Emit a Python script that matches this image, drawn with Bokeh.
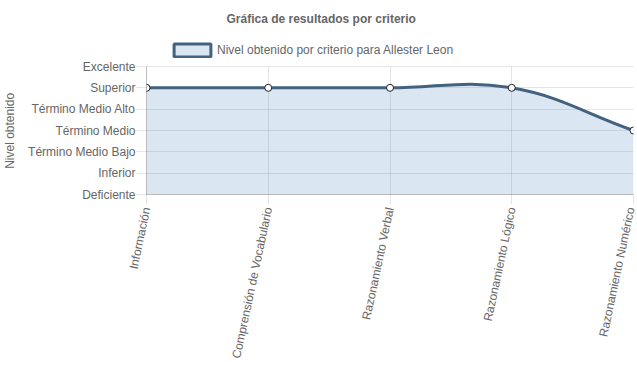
import math
from bokeh.plotting import figure
from bokeh.models import (ColumnDataSource, FixedTicker, Range1d, Legend, LegendItem)
from bokeh.embed import file_html
from bokeh.resources import INLINE

# ---- data ----
niveles = ["Deficiente", "Inferior", "Término Medio Bajo", "Término Medio",
           "Término Medio Alto", "Superior", "Excelente"]
criterios = ["Información", "Comprensión de Vocabulario", "Razonamiento Verbal",
             "Razonamiento Lógico", "Razonamiento Numérico"]
resultados = ["Superior", "Superior", "Superior", "Superior", "Término Medio"]
serie = "Nivel obtenido por criterio para Allester Leon"
titulo = "Gráfica de resultados por criterio"
eje_y = "Nivel obtenido"

FONT = "Liberation Sans"
TXT = "#666666"
LINE = "#43627f"
FILL = "rgba(70,130,185,0.2)"
GRID = "rgba(0,0,0,0.1)"

W, H = 637, 389
BL, BR, BT, BB = 146, 4, 30, 195
LEG_H = 36                      # space between frame top and the chart area (legend)
fw = W - BL - BR
fh = H - BT - BB - LEG_H        # height of the level area

xs = list(range(len(criterios)))
ys = [niveles.index(r) for r in resultados]
ytop = len(niveles) - 1
sx = fw / (len(criterios) - 1)
sy = fh / ytop

p = figure(width=W, height=H, output_backend="svg", toolbar_location=None,
           x_range=Range1d(0, len(criterios) - 1),
           y_range=Range1d(0, ytop + LEG_H / sy),
           min_border_left=BL, min_border_right=BR, min_border_top=BT, min_border_bottom=BB,
           outline_line_color=None, background_fill_color="white", border_fill_color="white")

# Chart.js-like spline (tension 0.4) computed in pixel space
P = [(x * sx, y * sy) for x, y in zip(xs, ys)]
t = 0.4
cps = []
for i, (cx, cy) in enumerate(P):
    px, py = P[i - 1] if i > 0 else (cx, cy)
    nx, ny = P[i + 1] if i < len(P) - 1 else (cx, cy)
    d01 = math.hypot(cx - px, cy - py)
    d12 = math.hypot(nx - cx, ny - cy)
    s = d01 + d12
    s01 = d01 / s if s else 0
    s12 = d12 / s if s else 0
    fa, fb = t * s01, t * s12
    prev_cp = (cx - fa * (nx - px), cy - fa * (ny - py))
    next_cp = (cx + fb * (nx - px), cy + fb * (ny - py))
    cps.append((prev_cp, next_cp))

bz = dict(x0=[], y0=[], x1=[], y1=[], cx0=[], cy0=[], cx1=[], cy1=[])
fx, fy = [], []
for i in range(len(P) - 1):
    a, b = P[i], P[i + 1]
    c0, c1 = cps[i][1], cps[i + 1][0]
    bz["x0"].append(a[0] / sx); bz["y0"].append(a[1] / sy)
    bz["x1"].append(b[0] / sx); bz["y1"].append(b[1] / sy)
    bz["cx0"].append(c0[0] / sx); bz["cy0"].append(c0[1] / sy)
    bz["cx1"].append(c1[0] / sx); bz["cy1"].append(c1[1] / sy)
    n = 40
    for k in range(n + (1 if i == len(P) - 2 else 0)):
        u = k / n
        m = 1 - u
        X = m**3 * a[0] + 3 * m * m * u * c0[0] + 3 * m * u * u * c1[0] + u**3 * b[0]
        Y = m**3 * a[1] + 3 * m * m * u * c0[1] + 3 * m * u * u * c1[1] + u**3 * b[1]
        fx.append(X / sx); fy.append(Y / sy)

# grids
p.ygrid.ticker = FixedTicker(ticks=list(range(len(niveles))))
p.grid.grid_line_color = GRID
xg = p.xgrid[0]
if hasattr(xg, "cross_bounds"):
    xg.ticker = FixedTicker(ticks=xs)
    xg.cross_bounds = (0, ytop)
else:
    xg.visible = False
    p.segment(x0=xs, y0=[0] * len(xs), x1=xs, y1=[ytop] * len(xs),
              line_color=GRID, line_width=1, level="underlay")

p.varea(x=fx, y1=[0] * len(fx), y2=fy, fill_color=FILL)
p.bezier(x0="x0", y0="y0", x1="x1", y1="y1", cx0="cx0", cy0="cy0", cx1="cx1", cy1="cy1",
         source=ColumnDataSource(bz), line_color=LINE, line_width=3)
p.scatter(xs, ys, size=7, fill_color="white", line_color="#222222", line_width=1)

# legend swatch (glyph placed off-range; only its legend glyph shows)
sw = p.quad(left=[-10], right=[-9], top=[-10], bottom=[-11], fill_color="#dae6f1",
            line_color=LINE, line_width=3)
leg = Legend(items=[LegendItem(label=serie, renderers=[sw])], orientation="horizontal",
             location=(23, fh + LEG_H - 27.5), glyph_width=46, glyph_height=16, label_standoff=2,
             label_text_font=FONT, label_text_font_size="12px", label_text_color=TXT,
             border_line_color=None, background_fill_alpha=0, padding=0, margin=0,
             label_height=14, spacing=0)
p.add_layout(leg, "center")

p.title.text = titulo
p.title.align = "left"
p.title.offset = 80
p.title.text_font = FONT
p.title.text_font_size = "12px"
p.title.text_font_style = "bold"
p.title.text_color = TXT

# axes
p.xaxis.ticker = FixedTicker(ticks=xs)
p.xaxis.major_label_overrides = {i: c for i, c in enumerate(criterios)}
p.xaxis.major_label_orientation = math.radians(78)
p.yaxis.ticker = FixedTicker(ticks=list(range(len(niveles))))
p.yaxis.major_label_overrides = {i: n for i, n in enumerate(niveles)}
p.yaxis.bounds = (0, ytop)
# trailing no-break spaces keep the label centred on the level area, not the whole frame
p.yaxis.axis_label = eje_y + "\u00a0" * 11
for ax in (p.xaxis, p.yaxis):
    ax.major_label_text_font = FONT
    ax.major_label_text_font_size = "12px"
    ax.major_label_text_color = TXT
    ax.major_tick_out = 10
    ax.major_tick_in = 0
    ax.minor_tick_out = 0
    ax.minor_tick_in = 0
    ax.major_tick_line_color = GRID
    ax.axis_line_color = "rgba(0,0,0,0.25)"
p.xaxis.major_label_standoff = 3
p.yaxis.major_label_standoff = 1
p.yaxis.axis_label_text_font = FONT
p.yaxis.axis_label_text_font_size = "12px"
p.yaxis.axis_label_text_font_style = "normal"
p.yaxis.axis_label_text_color = TXT
p.yaxis.axis_label_standoff = 8

open("out.html", "w").write(file_html(p, INLINE))
